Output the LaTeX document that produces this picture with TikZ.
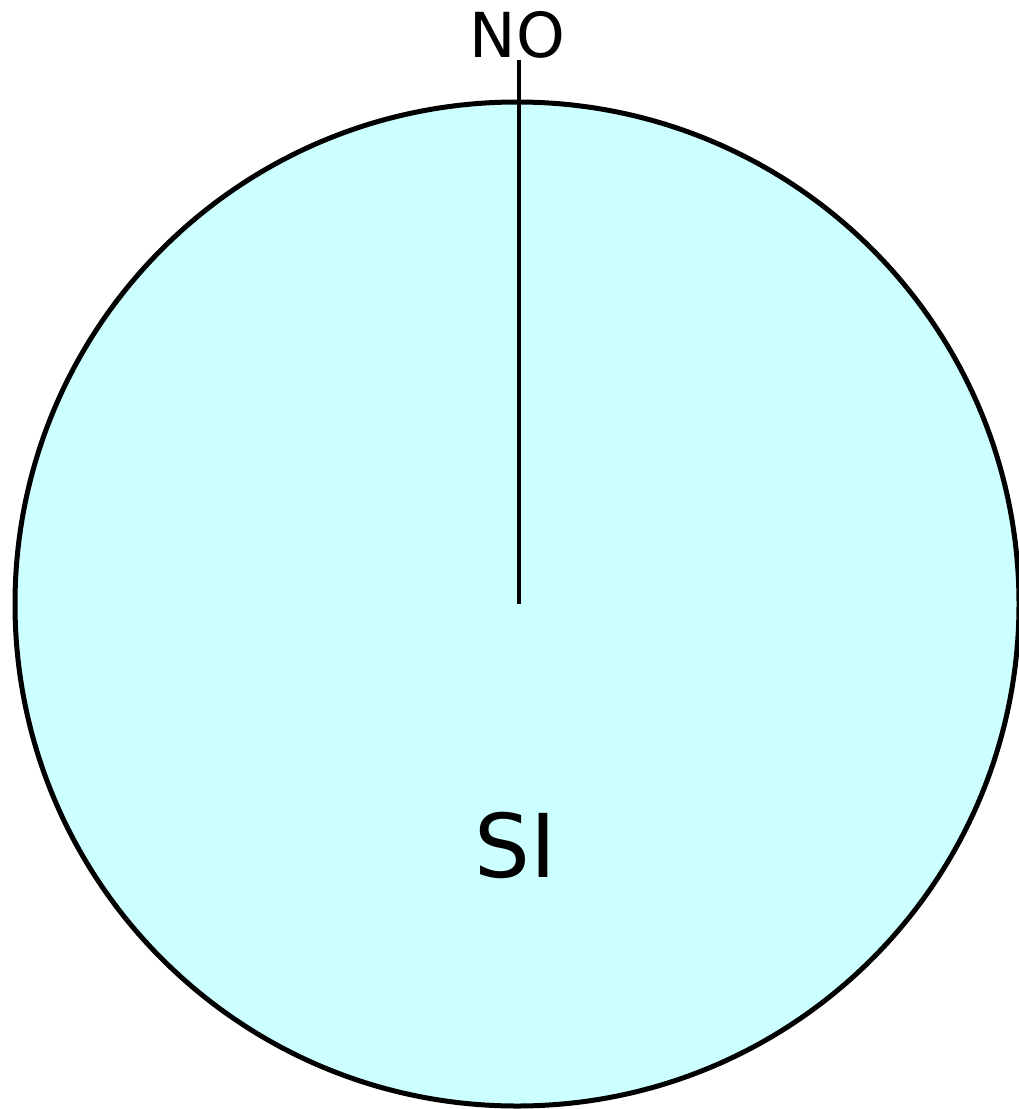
\documentclass[tikz,border=0pt]{standalone}
\usepackage{fontspec}
\setmainfont{DejaVu Sans}
\definecolor{disk}{HTML}{CCFFFF}
\tikzset{
  disc/.style={draw=black, fill=disk, line width=5pt},
  stick/.style={draw=black, line width=4.5pt},
  lbl/.style={inner sep=0pt, anchor=base, text=black}
}
\begin{document}
\begin{tikzpicture}[x=1pt,y=-1pt]
\useasboundingbox (0,0) rectangle (1019,1109);
\draw[disc] (517,604) circle[radius=502];
\coordinate (top) at (519,60);
\coordinate (mid) at (519,604);
\draw[stick] (top) -- (mid);
\node[lbl, font=\fontsize{62}{70}\selectfont] (no) at (517.5,57) {NO};
\node[lbl, font=\fontsize{88}{100}\selectfont] (si) at (515.5,877) {SI};
\end{tikzpicture}
\end{document}
